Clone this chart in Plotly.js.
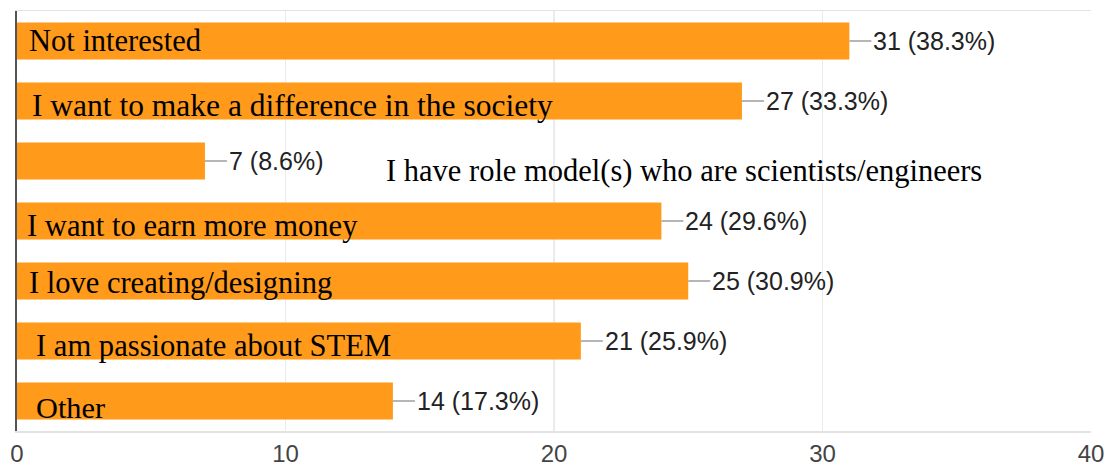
<!DOCTYPE html>
<html>
<head>
<meta charset="utf-8">
<script src="https://cdn.plot.ly/plotly-3.0.1.min.js"></script>
<style>html,body{margin:0;padding:0;background:#fff}#chart{width:1115px;height:468px}</style>
</head>
<body>
<div id="chart"></div>
<script>
const categories = [
  "Not interested",
  "I want to make a difference in the society",
  "I have role model(s) who are scientists/engineers",
  "I want to earn more money",
  "I love creating/designing",
  "I am passionate about STEM",
  "Other"
];
const counts = [31, 27, 7, 24, 25, 21, 14];
const percents = ["38.3%", "33.3%", "8.6%", "29.6%", "30.9%", "25.9%", "17.3%"];
const tickValues = [0, 10, 20, 30, 40];

// label placement (pixels) – layout only
const labelShiftX = [10, 13, 367, 8, 10, 17, 17];
const labelShiftY = [0, -4, -10, -5, -2, -5, -7];
const labelSize = [30.5, 31.5, 30.5, 30.6, 30.5, 30.6, 30.3];

const trace = {
  type: "bar",
  orientation: "h",
  x: counts,
  y: categories,
  marker: {color: "#FF9A1A"},
  hoverinfo: "none"
};

const annotations = [];
categories.forEach((c, i) => {
  annotations.push({
    xref: "paper", x: 0, xanchor: "left", xshift: labelShiftX[i],
    yref: "y", y: c, yanchor: "middle", yshift: labelShiftY[i],
    text: c, showarrow: false,
    font: {family: "Liberation Serif", size: labelSize[i], color: "#000"}
  });
  annotations.push({
    xref: "x", x: counts[i], yref: "y", y: c,
    ax: 22, ay: 0, xanchor: "left", yanchor: "middle",
    showarrow: true, arrowhead: 0, arrowwidth: 1.5, arrowcolor: "#9e9e9e",
    standoff: 0, startstandoff: 0,
    text: counts[i] + " (" + percents[i] + ")",
    font: {family: "Liberation Sans", size: 25, color: "#222"}
  });
});

const layout = {
  width: 1115, height: 468,
  margin: {l: 17, r: 24, t: 11, b: 37},
  paper_bgcolor: "#fff", plot_bgcolor: "#fff",
  showlegend: false,
  bargap: 0.38,
  xaxis: {
    range: [0, 40], tickvals: tickValues, ticktext: tickValues.map(String),
    showgrid: true, gridcolor: "#ebebeb", gridwidth: 1.5,
    showline: true, linecolor: "#e3e3e3", linewidth: 1.5, mirror: true,
    zeroline: false, ticks: "", ticklabelstandoff: 1,
    tickfont: {family: "Liberation Sans", size: 24, color: "#444"}
  },
  yaxis: {
    type: "category", autorange: "reversed",
    showticklabels: false, showgrid: false, zeroline: false, ticks: "",
    showline: true, linecolor: "#555", linewidth: 2
  },
  annotations: annotations
};

Plotly.newPlot("chart", [trace], layout, {displayModeBar: false, staticPlot: true});
</script>
</body>
</html>
